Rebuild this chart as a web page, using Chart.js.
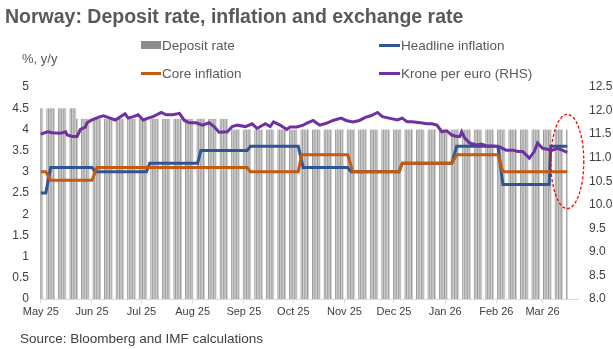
<!DOCTYPE html>
<html>
<head>
  <title>Norway: Deposit rate, inflation and exchange rate</title>
  <style>
    body { margin: 0; width: 613px; height: 349px; position: relative; background: #fff; font-family: "Liberation Sans", Arial, sans-serif; overflow: hidden; }
    #chart { position: absolute; left: 0; top: 0; }
    .txt { position: absolute; white-space: nowrap; color: #595959; }
    #title { left: 5px; top: 5px; font-size: 19.5px; font-weight: bold; }
    .leg { position: absolute; font-size: 13.5px; color: #595959; white-space: nowrap; line-height: 16px; }
    .leg i { display: inline-block; vertical-align: middle; margin-right: 1px; position: relative; top: -1px; }
    #unit { left: 22px; top: 51px; font-size: 13px; }
    #source { left: 20px; top: 331px; font-size: 13.5px; color: #404040; }
  </style>
</head>
<body>
  <canvas id="chart" width="613" height="349"></canvas>
  <div id="title" class="txt">Norway: Deposit rate, inflation and exchange rate</div>
  <div id="unit" class="txt">%, y/y</div>
  <div class="leg" style="left:141px; top:38px"><i style="width:20px;height:8px;background:#8c8c8c"></i>Deposit rate</div>
  <div class="leg" style="left:379px; top:38px"><i style="width:21px;height:3px;background:#2f5597"></i>Headline inflation</div>
  <div class="leg" style="left:141px; top:66px"><i style="width:20px;height:3px;background:#c55a11"></i>Core inflation</div>
  <div class="leg" style="left:379px; top:66px"><i style="width:21px;height:3px;background:#7030a0"></i>Krone per euro (RHS)</div>
  <div id="source" class="txt">Source: Bloomberg and IMF calculations</div>

  <script src="https://cdn.jsdelivr.net/npm/chart.js@4.4.0/dist/chart.umd.js"></script>
  <script>
    // axis range (daily)
    const firstDay = '2025-05-01';
    const lastAxisDay = '2026-03-22';
    const lastDataDay = '2026-03-16';
    const monthNames = ['Jan','Feb','Mar','Apr','May','Jun','Jul','Aug','Sep','Oct','Nov','Dec'];

    // deposit rate, business days
    const depositFrom = ['2025-05-01', '2025-05-23', '2025-08-23'];
    const depositRates = [4.5, 4.25, 4.0];

    // headline inflation, monthly steps
    const headlineFrom = ['2025-05-01','2025-05-07','2025-06-03','2025-07-06','2025-08-06','2025-09-05','2025-10-07','2025-11-05','2025-12-06','2026-01-08','2026-02-05','2026-03-06'];
    const headlineTo   = ['2025-05-04','2025-06-01','2025-07-04','2025-08-04','2025-09-03','2025-10-04','2025-11-03','2025-12-04','2026-01-05','2026-02-02','2026-03-05','2026-03-16'];
    const headlineValues = [2.5, 3.1, 3.0, 3.2, 3.5, 3.6, 3.1, 3.0, 3.2, 3.6, 2.7, 3.6];

    // core inflation, monthly steps
    const coreFrom = ['2025-05-01','2025-05-07','2025-06-04','2025-09-05','2025-10-06','2025-11-06','2025-12-06','2026-01-08','2026-02-05'];
    const coreTo   = ['2025-05-04','2025-06-01','2025-09-03','2025-10-04','2025-11-03','2025-12-04','2026-01-05','2026-02-02','2026-03-16'];
    const coreValues = [3.0, 2.8, 3.1, 3.0, 3.4, 3.0, 3.2, 3.4, 3.0];

    // krone per euro (RHS)
    const kroneDates = ['2025-05-01','2025-05-05','2025-05-08','2025-05-13','2025-05-16','2025-05-17','2025-05-20','2025-05-23','2025-05-25','2025-05-28','2025-05-29',
      '2025-06-01','2025-06-06','2025-06-08','2025-06-12','2025-06-15','2025-06-17','2025-06-21','2025-06-23','2025-06-26','2025-06-29',
      '2025-07-02','2025-07-05','2025-07-08','2025-07-13','2025-07-16','2025-07-20','2025-07-24','2025-07-27','2025-07-30',
      '2025-08-03','2025-08-07','2025-08-11','2025-08-14','2025-08-17','2025-08-22','2025-08-25','2025-08-28',
      '2025-09-02','2025-09-06','2025-09-09','2025-09-14','2025-09-17','2025-09-19','2025-09-23','2025-09-27','2025-09-29',
      '2025-10-03','2025-10-07','2025-10-09','2025-10-13','2025-10-17','2025-10-21','2025-10-25','2025-10-30',
      '2025-11-02','2025-11-06','2025-11-10','2025-11-14','2025-11-17','2025-11-21','2025-11-24','2025-11-28',
      '2025-12-03','2025-12-06','2025-12-09','2025-12-12','2025-12-17','2025-12-21','2025-12-24','2025-12-27','2025-12-30',
      '2026-01-02','2026-01-05','2026-01-08','2026-01-10','2026-01-11','2026-01-13','2026-01-16','2026-01-20','2026-01-23','2026-01-26','2026-01-30',
      '2026-02-03','2026-02-07','2026-02-11','2026-02-14','2026-02-17','2026-02-21','2026-02-24','2026-02-26',
      '2026-03-01','2026-03-04','2026-03-07','2026-03-10','2026-03-13','2026-03-16'];
    const kroneValues = [11.50,11.55,11.53,11.52,11.55,11.48,11.45,11.45,11.60,11.65,11.74,
      11.80,11.87,11.89,11.84,11.80,11.84,11.93,11.84,11.87,11.91,
      11.80,11.84,11.87,11.96,11.91,11.91,11.94,11.79,11.74,
      11.74,11.69,11.74,11.66,11.54,11.55,11.66,11.69,
      11.66,11.72,11.62,11.72,11.66,11.76,11.69,11.60,11.65,
      11.65,11.69,11.73,11.79,11.69,11.73,11.79,11.84,
      11.79,11.76,11.79,11.86,11.89,11.96,11.87,11.84,
      11.80,11.84,11.76,11.76,11.74,11.72,11.72,11.69,11.55,
      11.57,11.48,11.45,11.45,11.55,11.41,11.31,11.27,11.29,11.25,11.25,
      11.23,11.16,11.16,11.13,11.13,10.99,11.13,11.31,
      11.20,11.18,11.16,11.20,11.16,11.11];

    // red dashed ring around the latest readings (RHS units)
    const ringCenter = 10.92, ringHalfHeight = 1.0, ringHalfDays = 10;

    // build daily category labels
    const days = [];
    for (let t = Date.parse(firstDay); t <= Date.parse(lastAxisDay); t += 86400000) {
      days.push(new Date(t).toISOString().slice(0, 10));
    }
    const dayIndex = {};
    days.forEach((d, i) => dayIndex[d] = i);

    function stepValue(d, from, to, vals) {
      for (let k = 0; k < vals.length; k++) {
        if (d >= from[k] && d <= to[k]) return vals[k];
      }
      return null;
    }

    const depositData = days.map(d => {
      const wd = new Date(d + 'T00:00:00Z').getUTCDay();
      if (wd === 0 || wd === 6 || d > lastDataDay) return null;
      let r = null;
      depositFrom.forEach((f, k) => { if (d >= f) r = depositRates[k]; });
      return r;
    });
    const headlineData = days.map(d => stepValue(d, headlineFrom, headlineTo, headlineValues));
    const coreData = days.map(d => stepValue(d, coreFrom, coreTo, coreValues));
    const kroneData = days.map(() => null);
    kroneDates.forEach((d, k) => kroneData[dayIndex[d]] = kroneValues[k]);

    const ringPlugin = {
      id: 'ring',
      afterDatasetsDraw(chart) {
        const x = chart.scales.x, y2 = chart.scales.y2, c = chart.ctx;
        const last = dayIndex[lastDataDay];
        const cx = x.getPixelForValue(last);
        const rx = Math.abs(x.getPixelForValue(last + ringHalfDays) - cx);
        const cy = y2.getPixelForValue(ringCenter);
        const ry = Math.abs(y2.getPixelForValue(ringCenter + ringHalfHeight) - cy);
        c.save();
        c.strokeStyle = '#ff0000';
        c.lineWidth = 1.3;
        c.setLineDash([3, 2]);
        c.beginPath();
        c.ellipse(cx, cy, rx, ry, 0, 0, Math.PI * 2);
        c.stroke();
        c.restore();
      }
    };

    const font = { family: '"Liberation Sans", Arial, sans-serif', size: 12 };
    Chart.defaults.color = '#404040';

    new Chart(document.getElementById('chart').getContext('2d'), {
      type: 'bar',
      data: {
        labels: days,
        datasets: [
          { type: 'line', label: 'Krone per euro (RHS)', data: kroneData, yAxisID: 'y2', borderColor: '#7030a0', borderWidth: 3, pointRadius: 0, spanGaps: true, tension: 0, order: 0 },
          { type: 'line', label: 'Core inflation', data: coreData, yAxisID: 'y', borderColor: '#c55a11', borderWidth: 3, pointRadius: 0, spanGaps: true, tension: 0, order: 1 },
          { type: 'line', label: 'Headline inflation', data: headlineData, yAxisID: 'y', borderColor: '#2f5597', borderWidth: 3, pointRadius: 0, spanGaps: true, tension: 0, order: 2 },
          { type: 'bar', label: 'Deposit rate', data: depositData, yAxisID: 'y', backgroundColor: '#d2d2d2', borderColor: '#8c8c8c',
            borderWidth: { left: 0.8, right: 0, top: 0, bottom: 0 }, borderSkipped: false, barPercentage: 1, categoryPercentage: 1, order: 3 }
        ]
      },
      options: {
        responsive: false,
        animation: false,
        layout: { padding: { top: 87, bottom: 28, left: 0, right: 0 } },
        plugins: { legend: { display: false }, tooltip: { enabled: false } },
        scales: {
          x: {
            offset: true,
            grid: { display: true, drawOnChartArea: false, drawTicks: true, tickLength: 4, color: '#d9d9d9', offset: false },
            border: { color: '#d9d9d9' },
            ticks: {
              autoSkip: false, maxRotation: 0, padding: 2, color: '#404040',
              font: { family: font.family, size: 11 },
              callback(v) {
                const d = days[v];
                return monthNames[+d.slice(5, 7) - 1] + ' ' + d.slice(2, 4);
              }
            },
            afterBuildTicks(s) { s.ticks = s.ticks.filter(t => days[t.value].slice(8) === '01'); },
            afterFit(s) { s.height = 22; }
          },
          y: {
            position: 'left', min: 0, max: 5,
            grid: { display: false, drawTicks: false },
            border: { display: false },
            ticks: { stepSize: 0.5, padding: 11, font, color: '#404040', callback: v => String(Number(v.toFixed(1))) },
            afterFit(s) { s.width = 40; }
          },
          y2: {
            position: 'right', min: 8, max: 12.5,
            grid: { display: false, drawTicks: false },
            border: { display: false },
            ticks: { stepSize: 0.5, padding: 11, font, color: '#404040', callback: v => v.toFixed(1) },
            afterFit(s) { s.width = 35; }
          }
        }
      },
      plugins: [ringPlugin]
    });
  </script>
</body>
</html>
